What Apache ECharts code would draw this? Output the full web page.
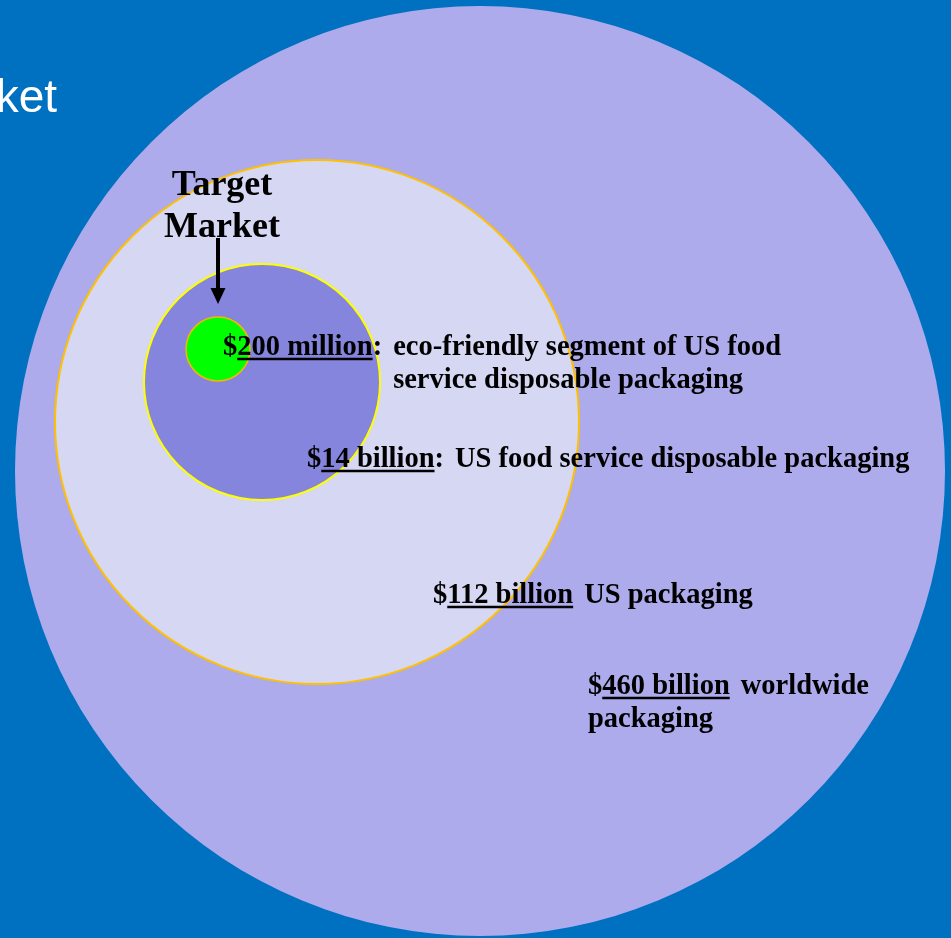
<!DOCTYPE html>
<html>
<head>
<meta charset="utf-8">
<script src="https://cdn.jsdelivr.net/npm/echarts@6/dist/echarts.min.js"></script>
<style>
html,body{margin:0;padding:0;background:#0070C0;}
#chart{width:951px;height:938px;}
</style>
</head>
<body>
<div id="chart"></div>
<script>
// ---- data: nested market circles (values in $ billions) ----
const marketNames   = ['Worldwide packaging', 'US packaging', 'US food service disposable packaging', 'Eco-friendly segment (target market)'];
const marketValues  = [460, 112, 14, 0.2];
const circleCenterX = [480, 317, 262, 218];
const circleCenterY = [471, 422, 382, 349];
const circleRadius  = [465, 262, 118, 32];

// ---- annotation texts ----
const annotPrefix  = ['$', '$', '$', '$'];
const annotAmount  = ['200 million', '14 billion', '112 billion', '460 billion'];
const annotSuffix  = [':', ':', '', ''];
const annotLine1   = ['eco-friendly segment of US food', 'US food service disposable packaging', 'US packaging', 'worldwide'];
const annotLine2   = ['service disposable packaging', '', '', 'packaging'];
const annotX       = [223, 307, 433, 588];
const annotBase    = [355, 467, 603, 694];
const annotWrapIndent = [true, false, false, false];

const targetLines  = ['Target', 'Market'];
const targetX      = [222];
const targetBase   = [195, 237];
const arrowX       = [218];
const arrowY       = [238, 304];

// ---- styles ----
const circleFill   = ['#ADABEB', '#D6D7F3', '#8585DD', '#00FF00'];
const circleStroke = [null, '#FFC000', '#FFFF00', '#F5B800'];
const circleStrokeW= [0, 2, 2, 1.5];

const FONT_SIZE = 28.5;
const FONT = 'bold ' + FONT_SIZE + 'px "Liberation Serif", "Times New Roman", serif';
const TFONT_SIZE = 36;
const TFONT = 'bold ' + TFONT_SIZE + 'px "Liberation Serif", "Times New Roman", serif';
const MID = 0.25; // alphabetic baseline offset from 'middle'

const measureCtx = document.createElement('canvas').getContext('2d');
function textW(t, font) { measureCtx.font = font; return measureCtx.measureText(t).width; }

const chart = echarts.init(document.getElementById('chart'), null, {renderer: 'canvas'});

const circleData = marketValues.map((v, i) => [circleCenterX[i], circleCenterY[i], circleRadius[i], v]);
const annotData = annotAmount.map((a, i) => [annotX[i], annotBase[i]]);

chart.setOption({
  backgroundColor: '#0070C0',
  animation: false,
  grid: {left: 0, right: 0, top: 0, bottom: 0},
  xAxis: {type: 'value', min: 0, max: 951, show: false},
  yAxis: {type: 'value', min: 0, max: 938, inverse: true, show: false},
  graphic: [{
    type: 'text', x: 57, y: 112 - 46 * 0.28,
    style: {text: 'Market', fill: '#FFFFFF', font: '46px "Liberation Sans", Arial, sans-serif', align: 'right', verticalAlign: 'middle'}
  }],
  series: [
    {
      type: 'custom',
      name: 'markets',
      coordinateSystem: 'cartesian2d',
      clip: false,
      data: circleData,
      renderItem: function (params, api) {
        const i = params.dataIndex;
        const c = api.coord([api.value(0), api.value(1)]);
        const r = api.size([api.value(2), api.value(2)])[0];
        return {
          type: 'circle',
          shape: {cx: c[0], cy: c[1], r: r},
          style: {
            fill: circleFill[i],
            stroke: circleStroke[i] || 'none',
            lineWidth: circleStrokeW[i]
          }
        };
      }
    },
    {
      type: 'custom',
      name: 'labels',
      coordinateSystem: 'cartesian2d',
      clip: false,
      data: annotData,
      renderItem: function (params, api) {
        const i = params.dataIndex;
        const p = api.coord([api.value(0), api.value(1)]);
        const x0 = p[0], base = p[1];
        const yMid = base - FONT_SIZE * MID;
        const wPre = textW(annotPrefix[i], FONT);
        const wAmt = textW(annotAmount[i], FONT);
        const wSuf = textW(annotSuffix[i], FONT);
        const descX = x0 + wPre + wAmt + wSuf + 11;
        const children = [
          {type: 'text', x: x0, y: yMid, style: {text: annotPrefix[i] + annotAmount[i] + annotSuffix[i], font: FONT, fill: '#000', align: 'left', verticalAlign: 'middle'}},
          {type: 'line', shape: {x1: x0 + wPre, y1: base + 4, x2: x0 + wPre + wAmt, y2: base + 4}, style: {stroke: '#000', lineWidth: 2.5}},
          {type: 'text', x: descX, y: yMid, style: {text: annotLine1[i], font: FONT, fill: '#000', align: 'left', verticalAlign: 'middle'}}
        ];
        if (annotLine2[i]) {
          children.push({type: 'text', x: annotWrapIndent[i] ? descX : x0, y: yMid + 33,
            style: {text: annotLine2[i], font: FONT, fill: '#000', align: 'left', verticalAlign: 'middle'}});
        }
        return {type: 'group', children: children};
      }
    },
    {
      type: 'custom',
      name: 'target',
      coordinateSystem: 'cartesian2d',
      clip: false,
      data: [[targetX[0], targetBase[0], targetBase[1], arrowX[0], arrowY[0], arrowY[1]]],
      renderItem: function (params, api) {
        const t1 = api.coord([api.value(0), api.value(1)]);
        const t2 = api.coord([api.value(0), api.value(2)]);
        const a1 = api.coord([api.value(3), api.value(4)]);
        const a2 = api.coord([api.value(3), api.value(5)]);
        const headLen = 16, headHalf = 7.5;
        return {type: 'group', children: [
          {type: 'text', x: t1[0], y: t1[1] - TFONT_SIZE * MID, style: {text: targetLines[0], font: TFONT, fill: '#000', align: 'center', verticalAlign: 'middle'}},
          {type: 'text', x: t2[0], y: t2[1] - TFONT_SIZE * MID, style: {text: targetLines[1], font: TFONT, fill: '#000', align: 'center', verticalAlign: 'middle'}},
          {type: 'line', shape: {x1: a1[0], y1: a1[1], x2: a2[0], y2: a2[1] - headLen + 2}, style: {stroke: '#000', lineWidth: 4}},
          {type: 'polygon', shape: {points: [[a2[0] - headHalf, a2[1] - headLen], [a2[0] + headHalf, a2[1] - headLen], [a2[0], a2[1]]]}, style: {fill: '#000'}}
        ]};
      }
    }
  ]
});
</script>
</body>
</html>
